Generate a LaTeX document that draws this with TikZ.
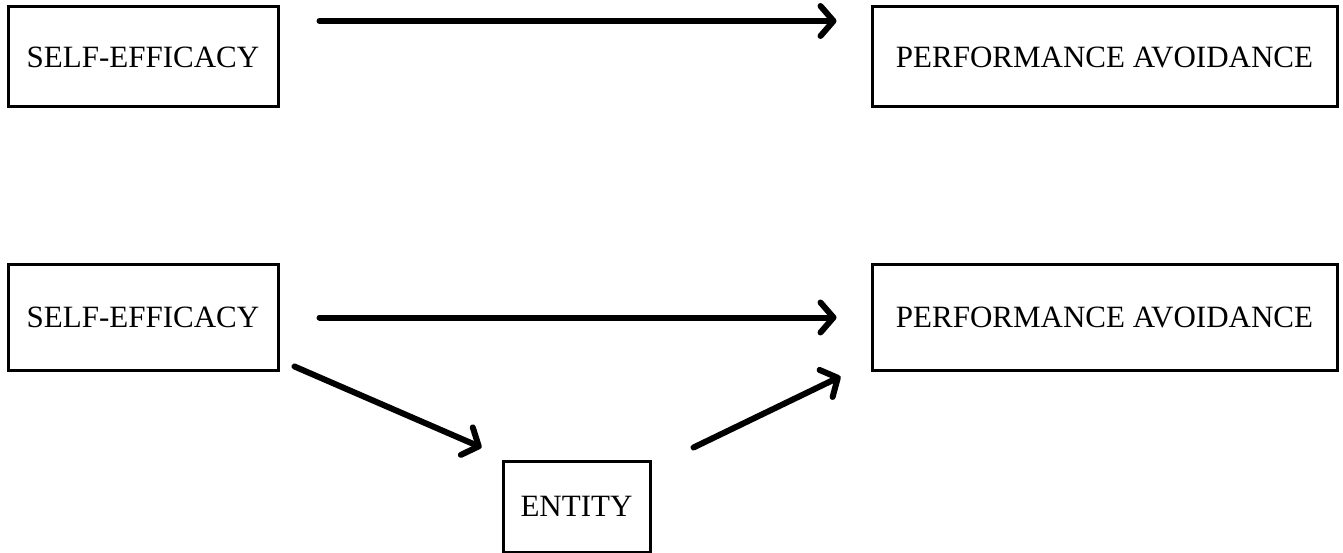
\documentclass[tikz,border=0pt]{standalone}
\usepackage{fontspec}
\setmainfont{Liberation Serif}
\usetikzlibrary{arrows.meta}
\begin{document}
\begin{tikzpicture}[x=1pt,y=-1pt,
  box/.style={draw=black,line width=3pt,inner sep=0pt,font=\fontsize{31}{36}\selectfont},
  arr/.style={line width=6pt,line cap=round,-{Straight Barb[length=13pt,width=30pt,round]}}]
\useasboundingbox (0,0) rectangle (1343,553);
\node[box,minimum width=270pt,minimum height=100pt] (se1) at (143,57) {SELF-EFFICACY};
\node[box,minimum width=465pt,minimum height=100pt] (pa1) at (1104.5,57) {PERFORMANCE AVOIDANCE};
\node[box,minimum width=270pt,minimum height=105pt] (se2) at (143,317.5) {SELF-EFFICACY};
\node[box,minimum width=465pt,minimum height=105pt] (pa2) at (1104.5,317.5) {PERFORMANCE AVOIDANCE};
\node[box,minimum width=147pt,minimum height=91pt] (en) at (576.5,506.5) {ENTITY};
\draw[arr] ([xshift=40pt,yshift=36pt]se1.east) -- ([xshift=-34pt,yshift=36pt]pa1.west);
\draw[arr] ([xshift=40pt]se2.east) -- ([xshift=-34pt]pa2.west);
\draw[arr] ([xshift=15pt,yshift=5pt]se2.south east) -- ([xshift=-20pt,yshift=12pt]en.north west);
\draw[arr] ([xshift=42pt,yshift=12pt]en.north east) -- ([xshift=-30pt,yshift=-5pt]pa2.south west);
\end{tikzpicture}
\end{document}
